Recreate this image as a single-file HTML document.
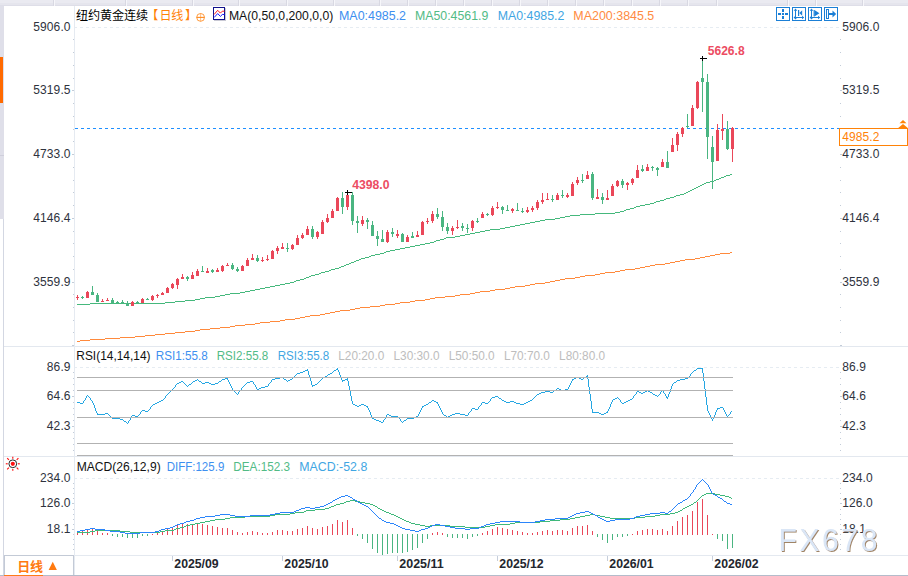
<!DOCTYPE html>
<html><head><meta charset="utf-8"><title>chart</title>
<style>
html,body{margin:0;padding:0;background:#fff;}
body{width:908px;height:576px;overflow:hidden;font-family:"Liberation Sans",sans-serif;}
svg{display:block;font-family:"Liberation Sans",sans-serif;}
</style></head><body>
<svg width="908" height="576" viewBox="0 0 908 576">
<defs><filter id="ws" x="-5%" y="-20%" width="110%" height="140%"><feDropShadow dx="1" dy="1" stdDeviation="0.5" flood-color="#8f6e4c" flood-opacity="0.85"/></filter></defs>
<rect x="0" y="0" width="908" height="576" fill="#fff"/>
<g shape-rendering="crispEdges">
<rect x="0" y="0" width="908" height="3" fill="#eaeaf1"/>
<rect x="0" y="3" width="908" height="2" fill="#e5e5ed"/>
<rect x="0" y="5" width="908" height="1" fill="#dedee8"/>
<rect x="54" y="0" width="1" height="6" fill="#f6f6fa"/>
<rect x="53" y="0" width="1" height="6" fill="#d8d8e2"/>
<rect x="126" y="0" width="1" height="6" fill="#f6f6fa"/>
<rect x="125" y="0" width="1" height="6" fill="#d8d8e2"/>
<rect x="193" y="0" width="1" height="6" fill="#f6f6fa"/>
<rect x="192" y="0" width="1" height="6" fill="#d8d8e2"/>
<rect x="239" y="0" width="1" height="6" fill="#f6f6fa"/>
<rect x="238" y="0" width="1" height="6" fill="#d8d8e2"/>
<rect x="287" y="0" width="1" height="6" fill="#f6f6fa"/>
<rect x="286" y="0" width="1" height="6" fill="#d8d8e2"/>
<rect x="334" y="0" width="1" height="6" fill="#f6f6fa"/>
<rect x="333" y="0" width="1" height="6" fill="#d8d8e2"/>
<rect x="380" y="0" width="1" height="6" fill="#f6f6fa"/>
<rect x="379" y="0" width="1" height="6" fill="#d8d8e2"/>
<rect x="408" y="0" width="1" height="6" fill="#f6f6fa"/>
<rect x="407" y="0" width="1" height="6" fill="#d8d8e2"/>
<rect x="436" y="0" width="1" height="6" fill="#f6f6fa"/>
<rect x="435" y="0" width="1" height="6" fill="#d8d8e2"/>
<rect x="464" y="0" width="1" height="6" fill="#f6f6fa"/>
<rect x="463" y="0" width="1" height="6" fill="#d8d8e2"/>
<rect x="492" y="0" width="1" height="6" fill="#f6f6fa"/>
<rect x="491" y="0" width="1" height="6" fill="#d8d8e2"/>
<rect x="520" y="0" width="1" height="6" fill="#f6f6fa"/>
<rect x="519" y="0" width="1" height="6" fill="#d8d8e2"/>
<rect x="548" y="0" width="1" height="6" fill="#f6f6fa"/>
<rect x="547" y="0" width="1" height="6" fill="#d8d8e2"/>
<rect x="576" y="0" width="1" height="6" fill="#f6f6fa"/>
<rect x="575" y="0" width="1" height="6" fill="#d8d8e2"/>
<rect x="604" y="0" width="1" height="6" fill="#f6f6fa"/>
<rect x="603" y="0" width="1" height="6" fill="#d8d8e2"/>
<rect x="632" y="0" width="1" height="6" fill="#f6f6fa"/>
<rect x="631" y="0" width="1" height="6" fill="#d8d8e2"/>
<rect x="660" y="0" width="1" height="6" fill="#f6f6fa"/>
<rect x="659" y="0" width="1" height="6" fill="#d8d8e2"/>
<rect x="688" y="0" width="1" height="6" fill="#f6f6fa"/>
<rect x="687" y="0" width="1" height="6" fill="#d8d8e2"/>
<rect x="717" y="0" width="1" height="6" fill="#f6f6fa"/>
<rect x="716" y="0" width="1" height="6" fill="#d8d8e2"/>
<rect x="788" y="0" width="1" height="6" fill="#f6f6fa"/>
<rect x="787" y="0" width="1" height="6" fill="#d8d8e2"/>
<rect x="816" y="0" width="1" height="6" fill="#f6f6fa"/>
<rect x="815" y="0" width="1" height="6" fill="#d8d8e2"/>
<rect x="863" y="0" width="1" height="6" fill="#f6f6fa"/>
<rect x="862" y="0" width="1" height="6" fill="#d8d8e2"/>
<rect x="0" y="6" width="4" height="213" fill="#dfdfe9"/>
<rect x="0" y="155" width="4" height="1" fill="#cfcfdb"/>
<rect x="3" y="219" width="1" height="356" fill="#d3d7e2"/>
<rect x="0" y="57" width="3" height="46" fill="#ff6a00"/>
<rect x="4" y="346" width="904" height="1" fill="#e3e8ef"/>
<rect x="4" y="456" width="904" height="1" fill="#e3e8ef"/>
<rect x="4" y="555" width="904" height="1" fill="#e4e9f0"/>
<rect x="74" y="6" width="1" height="569" fill="#e5eaf1"/>
<rect x="0" y="575" width="908" height="1" fill="#b4bccb"/>
<rect x="4" y="575" width="39" height="1" fill="#ff7a1a"/>
<rect x="4" y="555" width="70" height="1" fill="#c3cad6"/>
<rect x="4" y="555" width="1" height="20" fill="#c3cad6"/>
<rect x="73" y="555" width="1" height="20" fill="#c3cad6"/>
</g>
<g shape-rendering="crispEdges">
<rect x="73" y="39" width="1" height="1" fill="#c3ccd8"/>
<rect x="840" y="39" width="1" height="1" fill="#c3ccd8"/>
<rect x="73" y="52" width="1" height="1" fill="#c3ccd8"/>
<rect x="840" y="52" width="1" height="1" fill="#c3ccd8"/>
<rect x="73" y="65" width="1" height="1" fill="#c3ccd8"/>
<rect x="840" y="65" width="1" height="1" fill="#c3ccd8"/>
<rect x="73" y="78" width="1" height="1" fill="#c3ccd8"/>
<rect x="840" y="78" width="1" height="1" fill="#c3ccd8"/>
<rect x="72" y="90" width="2" height="1" fill="#c3ccd8"/>
<rect x="840" y="90" width="2" height="1" fill="#c3ccd8"/>
<rect x="73" y="103" width="1" height="1" fill="#c3ccd8"/>
<rect x="840" y="103" width="1" height="1" fill="#c3ccd8"/>
<rect x="73" y="116" width="1" height="1" fill="#c3ccd8"/>
<rect x="840" y="116" width="1" height="1" fill="#c3ccd8"/>
<rect x="73" y="129" width="1" height="1" fill="#c3ccd8"/>
<rect x="840" y="129" width="1" height="1" fill="#c3ccd8"/>
<rect x="73" y="141" width="1" height="1" fill="#c3ccd8"/>
<rect x="840" y="141" width="1" height="1" fill="#c3ccd8"/>
<rect x="72" y="154" width="2" height="1" fill="#c3ccd8"/>
<rect x="840" y="154" width="2" height="1" fill="#c3ccd8"/>
<rect x="73" y="167" width="1" height="1" fill="#c3ccd8"/>
<rect x="840" y="167" width="1" height="1" fill="#c3ccd8"/>
<rect x="73" y="180" width="1" height="1" fill="#c3ccd8"/>
<rect x="840" y="180" width="1" height="1" fill="#c3ccd8"/>
<rect x="73" y="192" width="1" height="1" fill="#c3ccd8"/>
<rect x="840" y="192" width="1" height="1" fill="#c3ccd8"/>
<rect x="73" y="205" width="1" height="1" fill="#c3ccd8"/>
<rect x="840" y="205" width="1" height="1" fill="#c3ccd8"/>
<rect x="72" y="218" width="2" height="1" fill="#c3ccd8"/>
<rect x="840" y="218" width="2" height="1" fill="#c3ccd8"/>
<rect x="73" y="231" width="1" height="1" fill="#c3ccd8"/>
<rect x="840" y="231" width="1" height="1" fill="#c3ccd8"/>
<rect x="73" y="243" width="1" height="1" fill="#c3ccd8"/>
<rect x="840" y="243" width="1" height="1" fill="#c3ccd8"/>
<rect x="73" y="256" width="1" height="1" fill="#c3ccd8"/>
<rect x="840" y="256" width="1" height="1" fill="#c3ccd8"/>
<rect x="73" y="269" width="1" height="1" fill="#c3ccd8"/>
<rect x="840" y="269" width="1" height="1" fill="#c3ccd8"/>
<rect x="72" y="282" width="2" height="1" fill="#c3ccd8"/>
<rect x="840" y="282" width="2" height="1" fill="#c3ccd8"/>
<rect x="73" y="294" width="1" height="1" fill="#c3ccd8"/>
<rect x="840" y="294" width="1" height="1" fill="#c3ccd8"/>
<rect x="73" y="307" width="1" height="1" fill="#c3ccd8"/>
<rect x="840" y="307" width="1" height="1" fill="#c3ccd8"/>
<rect x="73" y="320" width="1" height="1" fill="#c3ccd8"/>
<rect x="840" y="320" width="1" height="1" fill="#c3ccd8"/>
<rect x="73" y="332" width="1" height="1" fill="#c3ccd8"/>
<rect x="840" y="332" width="1" height="1" fill="#c3ccd8"/>
<rect x="72" y="345" width="2" height="1" fill="#c3ccd8"/>
<rect x="840" y="345" width="2" height="1" fill="#c3ccd8"/>
<rect x="73" y="372" width="1" height="1" fill="#c3ccd8"/>
<rect x="840" y="372" width="1" height="1" fill="#c3ccd8"/>
<rect x="73" y="378" width="1" height="1" fill="#c3ccd8"/>
<rect x="840" y="378" width="1" height="1" fill="#c3ccd8"/>
<rect x="73" y="384" width="1" height="1" fill="#c3ccd8"/>
<rect x="840" y="384" width="1" height="1" fill="#c3ccd8"/>
<rect x="73" y="390" width="1" height="1" fill="#c3ccd8"/>
<rect x="840" y="390" width="1" height="1" fill="#c3ccd8"/>
<rect x="72" y="396" width="2" height="1" fill="#c3ccd8"/>
<rect x="840" y="396" width="2" height="1" fill="#c3ccd8"/>
<rect x="73" y="402" width="1" height="1" fill="#c3ccd8"/>
<rect x="840" y="402" width="1" height="1" fill="#c3ccd8"/>
<rect x="73" y="408" width="1" height="1" fill="#c3ccd8"/>
<rect x="840" y="408" width="1" height="1" fill="#c3ccd8"/>
<rect x="73" y="414" width="1" height="1" fill="#c3ccd8"/>
<rect x="840" y="414" width="1" height="1" fill="#c3ccd8"/>
<rect x="73" y="420" width="1" height="1" fill="#c3ccd8"/>
<rect x="840" y="420" width="1" height="1" fill="#c3ccd8"/>
<rect x="72" y="426" width="2" height="1" fill="#c3ccd8"/>
<rect x="840" y="426" width="2" height="1" fill="#c3ccd8"/>
<rect x="73" y="432" width="1" height="1" fill="#c3ccd8"/>
<rect x="840" y="432" width="1" height="1" fill="#c3ccd8"/>
<rect x="73" y="438" width="1" height="1" fill="#c3ccd8"/>
<rect x="840" y="438" width="1" height="1" fill="#c3ccd8"/>
<rect x="73" y="444" width="1" height="1" fill="#c3ccd8"/>
<rect x="840" y="444" width="1" height="1" fill="#c3ccd8"/>
<rect x="73" y="450" width="1" height="1" fill="#c3ccd8"/>
<rect x="840" y="450" width="1" height="1" fill="#c3ccd8"/>
<rect x="73" y="483" width="1" height="1" fill="#c3ccd8"/>
<rect x="840" y="483" width="1" height="1" fill="#c3ccd8"/>
<rect x="73" y="488" width="1" height="1" fill="#c3ccd8"/>
<rect x="840" y="488" width="1" height="1" fill="#c3ccd8"/>
<rect x="73" y="493" width="1" height="1" fill="#c3ccd8"/>
<rect x="840" y="493" width="1" height="1" fill="#c3ccd8"/>
<rect x="73" y="498" width="1" height="1" fill="#c3ccd8"/>
<rect x="840" y="498" width="1" height="1" fill="#c3ccd8"/>
<rect x="72" y="503" width="2" height="1" fill="#c3ccd8"/>
<rect x="840" y="503" width="2" height="1" fill="#c3ccd8"/>
<rect x="73" y="509" width="1" height="1" fill="#c3ccd8"/>
<rect x="840" y="509" width="1" height="1" fill="#c3ccd8"/>
<rect x="73" y="514" width="1" height="1" fill="#c3ccd8"/>
<rect x="840" y="514" width="1" height="1" fill="#c3ccd8"/>
<rect x="73" y="519" width="1" height="1" fill="#c3ccd8"/>
<rect x="840" y="519" width="1" height="1" fill="#c3ccd8"/>
<rect x="73" y="524" width="1" height="1" fill="#c3ccd8"/>
<rect x="840" y="524" width="1" height="1" fill="#c3ccd8"/>
<rect x="72" y="529" width="2" height="1" fill="#c3ccd8"/>
<rect x="840" y="529" width="2" height="1" fill="#c3ccd8"/>
<rect x="73" y="534" width="1" height="1" fill="#c3ccd8"/>
<rect x="840" y="534" width="1" height="1" fill="#c3ccd8"/>
<rect x="73" y="539" width="1" height="1" fill="#c3ccd8"/>
<rect x="840" y="539" width="1" height="1" fill="#c3ccd8"/>
<rect x="73" y="544" width="1" height="1" fill="#c3ccd8"/>
<rect x="840" y="544" width="1" height="1" fill="#c3ccd8"/>
<rect x="73" y="549" width="1" height="1" fill="#c3ccd8"/>
<rect x="840" y="549" width="1" height="1" fill="#c3ccd8"/>
</g>
<line x1="74" y1="27.5" x2="839" y2="27.5" stroke="#e6ecf2" stroke-width="1" stroke-dasharray="3 3" shape-rendering="crispEdges"/>
<line x1="74" y1="367.5" x2="839" y2="367.5" stroke="#e6ecf2" stroke-width="1" stroke-dasharray="3 3" shape-rendering="crispEdges"/>
<line x1="74" y1="478.5" x2="839" y2="478.5" stroke="#e6ecf2" stroke-width="1" stroke-dasharray="3 3" shape-rendering="crispEdges"/>
<rect x="74" y="6" width="1" height="550" fill="#e5eaf1" shape-rendering="crispEdges"/>
<path d="M730 252h2v1h-2zM720 253h10v1h-10zM715 254h5v1h-5zM710 255h5v1h-5zM705 256h5v1h-5zM700 257h5v1h-5zM695 258h5v1h-5zM685 259h10v1h-10zM680 260h5v1h-5zM675 261h5v1h-5zM670 262h5v1h-5zM665 263h5v1h-5zM655 264h10v1h-10zM650 265h5v1h-5zM645 266h5v1h-5zM640 267h5v1h-5zM635 268h5v1h-5zM625 269h10v1h-10zM620 270h5v1h-5zM615 271h5v1h-5zM605 272h10v1h-10zM600 273h5v1h-5zM595 274h5v1h-5zM585 275h10v1h-10zM580 276h5v1h-5zM575 277h5v1h-5zM565 278h10v1h-10zM560 279h5v1h-5zM555 280h5v1h-5zM550 281h5v1h-5zM545 282h5v1h-5zM535 283h10v1h-10zM530 284h5v1h-5zM525 285h5v1h-5zM515 286h10v1h-10zM510 287h5v1h-5zM505 288h5v1h-5zM495 289h10v1h-10zM490 290h5v1h-5zM480 291h10v1h-10zM475 292h5v1h-5zM470 293h5v1h-5zM460 294h10v1h-10zM455 295h5v1h-5zM445 296h10v1h-10zM435 297h10v1h-10zM430 298h5v1h-5zM425 299h5v1h-5zM415 300h10v1h-10zM410 301h5v1h-5zM400 302h10v1h-10zM395 303h5v1h-5zM385 304h10v1h-10zM380 305h5v1h-5zM370 306h10v1h-10zM360 307h10v1h-10zM355 308h5v1h-5zM350 309h5v1h-5zM340 310h10v1h-10zM335 311h5v1h-5zM330 312h5v1h-5zM325 313h5v1h-5zM320 314h5v1h-5zM310 315h10v1h-10zM305 316h5v1h-5zM300 317h5v1h-5zM295 318h5v1h-5zM285 319h10v1h-10zM280 320h5v1h-5zM270 321h10v1h-10zM260 322h10v1h-10zM255 323h5v1h-5zM245 324h10v1h-10zM235 325h10v1h-10zM230 326h5v1h-5zM220 327h10v1h-10zM210 328h10v1h-10zM200 329h10v1h-10zM195 330h5v1h-5zM185 331h10v1h-10zM175 332h10v1h-10zM165 333h10v1h-10zM155 334h10v1h-10zM145 335h10v1h-10zM135 336h10v1h-10zM120 337h15v1h-15zM105 338h15v1h-15zM90 339h15v1h-15zM80 340h10v1h-10zM77 341h3v1h-3z" fill="#ff8a3d" shape-rendering="crispEdges"/>
<path d="M730 174h2v1h-2zM726 175h4v1h-4zM724 176h2v1h-2zM721 177h3v1h-3zM719 178h2v1h-2zM716 179h3v1h-3zM714 180h2v1h-2zM710 181h4v1h-4zM706 182h4v1h-4zM704 183h2v1h-2zM702 184h2v1h-2zM700 185h2v1h-2zM698 186h2v1h-2zM696 187h2v1h-2zM694 188h2v1h-2zM692 189h2v1h-2zM690 190h2v1h-2zM688 191h2v1h-2zM686 192h2v1h-2zM684 193h2v1h-2zM680 194h4v1h-4zM676 195h4v1h-4zM674 196h2v1h-2zM670 197h4v1h-4zM666 198h4v1h-4zM664 199h2v1h-2zM660 200h4v1h-4zM656 201h4v1h-4zM654 202h2v1h-2zM650 203h4v1h-4zM645 204h5v1h-5zM640 205h5v1h-5zM636 206h4v1h-4zM634 207h2v1h-2zM630 208h4v1h-4zM626 209h4v1h-4zM624 210h2v1h-2zM620 211h4v1h-4zM615 212h5v1h-5zM595 213h20v1h-20zM580 214h15v1h-15zM570 215h10v1h-10zM565 216h5v1h-5zM560 217h5v1h-5zM555 218h5v1h-5zM545 219h10v1h-10zM540 220h5v1h-5zM535 221h5v1h-5zM530 222h5v1h-5zM525 223h5v1h-5zM520 224h5v1h-5zM515 225h5v1h-5zM510 226h5v1h-5zM505 227h5v1h-5zM500 228h5v1h-5zM490 229h10v1h-10zM485 230h5v1h-5zM480 231h5v1h-5zM475 232h5v1h-5zM470 233h5v1h-5zM465 234h5v1h-5zM460 235h5v1h-5zM455 236h5v1h-5zM446 237h9v1h-9zM444 238h2v1h-2zM440 239h4v1h-4zM436 240h4v1h-4zM434 241h2v1h-2zM430 242h4v1h-4zM425 243h5v1h-5zM420 244h5v1h-5zM415 245h5v1h-5zM410 246h5v1h-5zM405 247h5v1h-5zM400 248h5v1h-5zM395 249h5v1h-5zM390 250h5v1h-5zM386 251h4v1h-4zM384 252h2v1h-2zM380 253h4v1h-4zM375 254h5v1h-5zM371 255h4v1h-4zM369 256h2v1h-2zM365 257h4v1h-4zM361 258h4v1h-4zM359 259h2v1h-2zM356 260h3v1h-3zM354 261h2v1h-2zM351 262h3v1h-3zM349 263h2v1h-2zM346 264h3v1h-3zM344 265h2v1h-2zM341 266h3v1h-3zM339 267h2v1h-2zM335 268h4v1h-4zM331 269h4v1h-4zM329 270h2v1h-2zM325 271h4v1h-4zM321 272h4v1h-4zM319 273h2v1h-2zM315 274h4v1h-4zM311 275h4v1h-4zM309 276h2v1h-2zM306 277h3v1h-3zM304 278h2v1h-2zM300 279h4v1h-4zM296 280h4v1h-4zM294 281h2v1h-2zM290 282h4v1h-4zM285 283h5v1h-5zM280 284h5v1h-5zM275 285h5v1h-5zM270 286h5v1h-5zM265 287h5v1h-5zM260 288h5v1h-5zM255 289h5v1h-5zM250 290h5v1h-5zM245 291h5v1h-5zM240 292h5v1h-5zM230 293h10v1h-10zM225 294h5v1h-5zM220 295h5v1h-5zM215 296h5v1h-5zM205 297h10v1h-10zM200 298h5v1h-5zM195 299h5v1h-5zM185 300h10v1h-10zM175 301h10v1h-10zM165 302h10v1h-10zM90 303h75v1h-75zM77 304h13v1h-13z" fill="#45b87c" shape-rendering="crispEdges"/>
<line x1="75" y1="128.5" x2="839" y2="128.5" stroke="#1e8fff" stroke-width="1" stroke-dasharray="3 3" shape-rendering="crispEdges"/>
<g shape-rendering="crispEdges">
<rect x="77" y="295" width="1" height="5" fill="#ea4759"/>
<rect x="76" y="297" width="3" height="1" fill="#ea4759"/>
<rect x="82" y="296" width="1" height="3" fill="#4ab581"/>
<rect x="81" y="297" width="3" height="1" fill="#4ab581"/>
<rect x="87" y="291" width="1" height="7" fill="#ea4759"/>
<rect x="86" y="292" width="3" height="6" fill="#ea4759"/>
<rect x="92" y="286" width="1" height="9" fill="#4ab581"/>
<rect x="91" y="292" width="3" height="3" fill="#4ab581"/>
<rect x="97" y="293" width="1" height="9" fill="#4ab581"/>
<rect x="96" y="295" width="3" height="7" fill="#4ab581"/>
<rect x="102" y="299" width="1" height="3" fill="#ea4759"/>
<rect x="101" y="301" width="3" height="1" fill="#ea4759"/>
<rect x="107" y="298" width="1" height="3" fill="#ea4759"/>
<rect x="106" y="300" width="3" height="1" fill="#ea4759"/>
<rect x="112" y="298" width="1" height="5" fill="#4ab581"/>
<rect x="111" y="300" width="3" height="3" fill="#4ab581"/>
<rect x="117" y="301" width="1" height="2" fill="#4ab581"/>
<rect x="116" y="302" width="3" height="1" fill="#4ab581"/>
<rect x="122" y="300" width="1" height="3" fill="#4ab581"/>
<rect x="121" y="302" width="3" height="1" fill="#4ab581"/>
<rect x="127" y="301" width="1" height="5" fill="#4ab581"/>
<rect x="126" y="303" width="3" height="3" fill="#4ab581"/>
<rect x="132" y="301" width="1" height="5" fill="#ea4759"/>
<rect x="131" y="302" width="3" height="4" fill="#ea4759"/>
<rect x="137" y="301" width="1" height="2" fill="#4ab581"/>
<rect x="136" y="302" width="3" height="1" fill="#4ab581"/>
<rect x="142" y="298" width="1" height="5" fill="#ea4759"/>
<rect x="141" y="299" width="3" height="4" fill="#ea4759"/>
<rect x="147" y="298" width="1" height="2" fill="#4ab581"/>
<rect x="146" y="299" width="3" height="1" fill="#4ab581"/>
<rect x="152" y="295" width="1" height="6" fill="#ea4759"/>
<rect x="151" y="296" width="3" height="4" fill="#ea4759"/>
<rect x="157" y="294" width="1" height="4" fill="#ea4759"/>
<rect x="156" y="295" width="3" height="1" fill="#ea4759"/>
<rect x="162" y="292" width="1" height="3" fill="#ea4759"/>
<rect x="161" y="293" width="3" height="2" fill="#ea4759"/>
<rect x="167" y="287" width="1" height="6" fill="#ea4759"/>
<rect x="166" y="288" width="3" height="5" fill="#ea4759"/>
<rect x="172" y="283" width="1" height="6" fill="#ea4759"/>
<rect x="171" y="284" width="3" height="4" fill="#ea4759"/>
<rect x="177" y="278" width="1" height="11" fill="#ea4759"/>
<rect x="176" y="279" width="3" height="6" fill="#ea4759"/>
<rect x="182" y="274" width="1" height="5" fill="#ea4759"/>
<rect x="181" y="277" width="3" height="2" fill="#ea4759"/>
<rect x="187" y="276" width="1" height="5" fill="#4ab581"/>
<rect x="186" y="277" width="3" height="2" fill="#4ab581"/>
<rect x="192" y="272" width="1" height="7" fill="#ea4759"/>
<rect x="191" y="275" width="3" height="4" fill="#ea4759"/>
<rect x="197" y="269" width="1" height="7" fill="#ea4759"/>
<rect x="196" y="271" width="3" height="5" fill="#ea4759"/>
<rect x="202" y="266" width="1" height="6" fill="#4ab581"/>
<rect x="201" y="271" width="3" height="1" fill="#4ab581"/>
<rect x="207" y="268" width="1" height="5" fill="#ea4759"/>
<rect x="206" y="271" width="3" height="2" fill="#ea4759"/>
<rect x="212" y="269" width="1" height="4" fill="#4ab581"/>
<rect x="211" y="270" width="3" height="2" fill="#4ab581"/>
<rect x="217" y="268" width="1" height="4" fill="#ea4759"/>
<rect x="216" y="270" width="3" height="2" fill="#ea4759"/>
<rect x="222" y="265" width="1" height="7" fill="#ea4759"/>
<rect x="221" y="266" width="3" height="5" fill="#ea4759"/>
<rect x="227" y="263" width="1" height="3" fill="#ea4759"/>
<rect x="226" y="265" width="3" height="1" fill="#ea4759"/>
<rect x="232" y="263" width="1" height="7" fill="#4ab581"/>
<rect x="231" y="265" width="3" height="4" fill="#4ab581"/>
<rect x="237" y="267" width="1" height="5" fill="#4ab581"/>
<rect x="236" y="269" width="3" height="2" fill="#4ab581"/>
<rect x="242" y="265" width="1" height="6" fill="#ea4759"/>
<rect x="241" y="266" width="3" height="5" fill="#ea4759"/>
<rect x="247" y="258" width="1" height="8" fill="#ea4759"/>
<rect x="246" y="260" width="3" height="6" fill="#ea4759"/>
<rect x="252" y="254" width="1" height="6" fill="#ea4759"/>
<rect x="251" y="258" width="3" height="2" fill="#ea4759"/>
<rect x="257" y="255" width="1" height="7" fill="#4ab581"/>
<rect x="256" y="258" width="3" height="3" fill="#4ab581"/>
<rect x="262" y="257" width="1" height="5" fill="#ea4759"/>
<rect x="261" y="260" width="3" height="1" fill="#ea4759"/>
<rect x="267" y="255" width="1" height="6" fill="#ea4759"/>
<rect x="266" y="259" width="3" height="1" fill="#ea4759"/>
<rect x="272" y="250" width="1" height="9" fill="#ea4759"/>
<rect x="271" y="251" width="3" height="8" fill="#ea4759"/>
<rect x="277" y="246" width="1" height="8" fill="#ea4759"/>
<rect x="276" y="248" width="3" height="3" fill="#ea4759"/>
<rect x="282" y="243" width="1" height="6" fill="#ea4759"/>
<rect x="281" y="247" width="3" height="2" fill="#ea4759"/>
<rect x="287" y="243" width="1" height="9" fill="#4ab581"/>
<rect x="286" y="248" width="3" height="1" fill="#4ab581"/>
<rect x="292" y="244" width="1" height="6" fill="#ea4759"/>
<rect x="291" y="245" width="3" height="4" fill="#ea4759"/>
<rect x="297" y="235" width="1" height="10" fill="#ea4759"/>
<rect x="296" y="238" width="3" height="7" fill="#ea4759"/>
<rect x="302" y="233" width="1" height="6" fill="#ea4759"/>
<rect x="301" y="235" width="3" height="3" fill="#ea4759"/>
<rect x="307" y="226" width="1" height="9" fill="#ea4759"/>
<rect x="306" y="229" width="3" height="6" fill="#ea4759"/>
<rect x="312" y="226" width="1" height="13" fill="#4ab581"/>
<rect x="311" y="229" width="3" height="8" fill="#4ab581"/>
<rect x="317" y="231" width="1" height="8" fill="#ea4759"/>
<rect x="316" y="232" width="3" height="5" fill="#ea4759"/>
<rect x="322" y="220" width="1" height="14" fill="#ea4759"/>
<rect x="321" y="222" width="3" height="12" fill="#ea4759"/>
<rect x="327" y="214" width="1" height="9" fill="#ea4759"/>
<rect x="326" y="218" width="3" height="4" fill="#ea4759"/>
<rect x="332" y="209" width="1" height="9" fill="#ea4759"/>
<rect x="331" y="211" width="3" height="7" fill="#ea4759"/>
<rect x="337" y="197" width="1" height="14" fill="#ea4759"/>
<rect x="336" y="198" width="3" height="13" fill="#ea4759"/>
<rect x="342" y="192" width="1" height="22" fill="#4ab581"/>
<rect x="341" y="198" width="3" height="9" fill="#4ab581"/>
<rect x="347" y="194" width="1" height="16" fill="#ea4759"/>
<rect x="346" y="195" width="3" height="12" fill="#ea4759"/>
<rect x="352" y="192" width="1" height="33" fill="#4ab581"/>
<rect x="351" y="195" width="3" height="26" fill="#4ab581"/>
<rect x="357" y="216" width="1" height="17" fill="#4ab581"/>
<rect x="356" y="221" width="3" height="2" fill="#4ab581"/>
<rect x="362" y="216" width="1" height="10" fill="#ea4759"/>
<rect x="361" y="220" width="3" height="4" fill="#ea4759"/>
<rect x="367" y="218" width="1" height="11" fill="#4ab581"/>
<rect x="366" y="220" width="3" height="2" fill="#4ab581"/>
<rect x="372" y="221" width="1" height="15" fill="#4ab581"/>
<rect x="371" y="225" width="3" height="11" fill="#4ab581"/>
<rect x="377" y="231" width="1" height="15" fill="#4ab581"/>
<rect x="376" y="236" width="3" height="3" fill="#4ab581"/>
<rect x="382" y="230" width="1" height="12" fill="#4ab581"/>
<rect x="381" y="239" width="3" height="3" fill="#4ab581"/>
<rect x="387" y="230" width="1" height="13" fill="#ea4759"/>
<rect x="386" y="232" width="3" height="10" fill="#ea4759"/>
<rect x="392" y="228" width="1" height="9" fill="#4ab581"/>
<rect x="391" y="232" width="3" height="2" fill="#4ab581"/>
<rect x="397" y="230" width="1" height="8" fill="#ea4759"/>
<rect x="396" y="234" width="3" height="2" fill="#ea4759"/>
<rect x="402" y="233" width="1" height="9" fill="#4ab581"/>
<rect x="401" y="234" width="3" height="8" fill="#4ab581"/>
<rect x="407" y="235" width="1" height="7" fill="#ea4759"/>
<rect x="406" y="237" width="3" height="5" fill="#ea4759"/>
<rect x="412" y="232" width="1" height="6" fill="#4ab581"/>
<rect x="411" y="236" width="3" height="2" fill="#4ab581"/>
<rect x="417" y="231" width="1" height="6" fill="#ea4759"/>
<rect x="416" y="235" width="3" height="2" fill="#ea4759"/>
<rect x="422" y="221" width="1" height="14" fill="#ea4759"/>
<rect x="421" y="222" width="3" height="13" fill="#ea4759"/>
<rect x="427" y="218" width="1" height="6" fill="#ea4759"/>
<rect x="426" y="221" width="3" height="1" fill="#ea4759"/>
<rect x="432" y="211" width="1" height="12" fill="#ea4759"/>
<rect x="431" y="214" width="3" height="7" fill="#ea4759"/>
<rect x="437" y="208" width="1" height="11" fill="#4ab581"/>
<rect x="436" y="214" width="3" height="3" fill="#4ab581"/>
<rect x="442" y="211" width="1" height="20" fill="#4ab581"/>
<rect x="441" y="217" width="3" height="10" fill="#4ab581"/>
<rect x="447" y="223" width="1" height="11" fill="#4ab581"/>
<rect x="446" y="227" width="3" height="4" fill="#4ab581"/>
<rect x="452" y="226" width="1" height="9" fill="#ea4759"/>
<rect x="451" y="228" width="3" height="3" fill="#ea4759"/>
<rect x="457" y="220" width="1" height="9" fill="#ea4759"/>
<rect x="456" y="227" width="3" height="1" fill="#ea4759"/>
<rect x="462" y="223" width="1" height="8" fill="#4ab581"/>
<rect x="461" y="226" width="3" height="2" fill="#4ab581"/>
<rect x="467" y="224" width="1" height="9" fill="#4ab581"/>
<rect x="466" y="228" width="3" height="1" fill="#4ab581"/>
<rect x="472" y="220" width="1" height="11" fill="#ea4759"/>
<rect x="471" y="221" width="3" height="7" fill="#ea4759"/>
<rect x="477" y="218" width="1" height="5" fill="#4ab581"/>
<rect x="476" y="221" width="3" height="1" fill="#4ab581"/>
<rect x="482" y="212" width="1" height="6" fill="#ea4759"/>
<rect x="481" y="214" width="3" height="4" fill="#ea4759"/>
<rect x="487" y="213" width="1" height="3" fill="#4ab581"/>
<rect x="486" y="214" width="3" height="1" fill="#4ab581"/>
<rect x="492" y="206" width="1" height="10" fill="#ea4759"/>
<rect x="491" y="208" width="3" height="7" fill="#ea4759"/>
<rect x="497" y="202" width="1" height="7" fill="#ea4759"/>
<rect x="496" y="207" width="3" height="1" fill="#ea4759"/>
<rect x="502" y="206" width="1" height="8" fill="#4ab581"/>
<rect x="501" y="207" width="3" height="3" fill="#4ab581"/>
<rect x="507" y="205" width="1" height="6" fill="#4ab581"/>
<rect x="506" y="210" width="3" height="1" fill="#4ab581"/>
<rect x="512" y="208" width="1" height="5" fill="#ea4759"/>
<rect x="511" y="209" width="3" height="2" fill="#ea4759"/>
<rect x="517" y="203" width="1" height="8" fill="#4ab581"/>
<rect x="516" y="210" width="3" height="1" fill="#4ab581"/>
<rect x="522" y="208" width="1" height="5" fill="#4ab581"/>
<rect x="521" y="211" width="3" height="1" fill="#4ab581"/>
<rect x="527" y="207" width="1" height="6" fill="#ea4759"/>
<rect x="526" y="210" width="3" height="2" fill="#ea4759"/>
<rect x="532" y="206" width="1" height="6" fill="#ea4759"/>
<rect x="531" y="208" width="3" height="2" fill="#ea4759"/>
<rect x="537" y="200" width="1" height="10" fill="#ea4759"/>
<rect x="536" y="202" width="3" height="6" fill="#ea4759"/>
<rect x="542" y="193" width="1" height="11" fill="#ea4759"/>
<rect x="541" y="200" width="3" height="2" fill="#ea4759"/>
<rect x="547" y="193" width="1" height="7" fill="#ea4759"/>
<rect x="546" y="199" width="3" height="1" fill="#ea4759"/>
<rect x="552" y="195" width="1" height="7" fill="#4ab581"/>
<rect x="551" y="199" width="3" height="1" fill="#4ab581"/>
<rect x="557" y="193" width="1" height="7" fill="#ea4759"/>
<rect x="556" y="195" width="3" height="5" fill="#ea4759"/>
<rect x="562" y="190" width="1" height="8" fill="#4ab581"/>
<rect x="561" y="195" width="3" height="1" fill="#4ab581"/>
<rect x="567" y="193" width="1" height="5" fill="#ea4759"/>
<rect x="566" y="195" width="3" height="2" fill="#ea4759"/>
<rect x="572" y="182" width="1" height="14" fill="#ea4759"/>
<rect x="571" y="184" width="3" height="12" fill="#ea4759"/>
<rect x="577" y="177" width="1" height="8" fill="#ea4759"/>
<rect x="576" y="180" width="3" height="3" fill="#ea4759"/>
<rect x="582" y="174" width="1" height="9" fill="#4ab581"/>
<rect x="581" y="180" width="3" height="1" fill="#4ab581"/>
<rect x="587" y="171" width="1" height="8" fill="#ea4759"/>
<rect x="586" y="175" width="3" height="4" fill="#ea4759"/>
<rect x="592" y="172" width="1" height="28" fill="#4ab581"/>
<rect x="591" y="174" width="3" height="24" fill="#4ab581"/>
<rect x="597" y="189" width="1" height="10" fill="#ea4759"/>
<rect x="596" y="197" width="3" height="2" fill="#ea4759"/>
<rect x="602" y="193" width="1" height="11" fill="#4ab581"/>
<rect x="601" y="197" width="3" height="3" fill="#4ab581"/>
<rect x="607" y="190" width="1" height="10" fill="#ea4759"/>
<rect x="606" y="198" width="3" height="2" fill="#ea4759"/>
<rect x="612" y="184" width="1" height="12" fill="#ea4759"/>
<rect x="611" y="186" width="3" height="10" fill="#ea4759"/>
<rect x="617" y="180" width="1" height="7" fill="#ea4759"/>
<rect x="616" y="181" width="3" height="5" fill="#ea4759"/>
<rect x="622" y="179" width="1" height="9" fill="#4ab581"/>
<rect x="621" y="181" width="3" height="4" fill="#4ab581"/>
<rect x="627" y="182" width="1" height="8" fill="#ea4759"/>
<rect x="626" y="183" width="3" height="2" fill="#ea4759"/>
<rect x="632" y="178" width="1" height="7" fill="#ea4759"/>
<rect x="631" y="179" width="3" height="4" fill="#ea4759"/>
<rect x="637" y="165" width="1" height="13" fill="#ea4759"/>
<rect x="636" y="170" width="3" height="8" fill="#ea4759"/>
<rect x="642" y="165" width="1" height="7" fill="#4ab581"/>
<rect x="641" y="169" width="3" height="2" fill="#4ab581"/>
<rect x="647" y="164" width="1" height="7" fill="#ea4759"/>
<rect x="646" y="167" width="3" height="4" fill="#ea4759"/>
<rect x="652" y="166" width="1" height="5" fill="#4ab581"/>
<rect x="651" y="167" width="3" height="1" fill="#4ab581"/>
<rect x="657" y="167" width="1" height="9" fill="#4ab581"/>
<rect x="656" y="168" width="3" height="2" fill="#4ab581"/>
<rect x="662" y="159" width="1" height="8" fill="#ea4759"/>
<rect x="661" y="162" width="3" height="5" fill="#ea4759"/>
<rect x="667" y="151" width="1" height="17" fill="#4ab581"/>
<rect x="666" y="162" width="3" height="6" fill="#4ab581"/>
<rect x="672" y="138" width="1" height="14" fill="#ea4759"/>
<rect x="671" y="145" width="3" height="7" fill="#ea4759"/>
<rect x="677" y="132" width="1" height="19" fill="#ea4759"/>
<rect x="676" y="134" width="3" height="11" fill="#ea4759"/>
<rect x="682" y="127" width="1" height="10" fill="#ea4759"/>
<rect x="681" y="128" width="3" height="6" fill="#ea4759"/>
<rect x="687" y="114" width="1" height="14" fill="#4ab581"/>
<rect x="686" y="126" width="3" height="1" fill="#4ab581"/>
<rect x="692" y="105" width="1" height="21" fill="#ea4759"/>
<rect x="691" y="108" width="3" height="18" fill="#ea4759"/>
<rect x="697" y="81" width="1" height="28" fill="#ea4759"/>
<rect x="696" y="82" width="3" height="26" fill="#ea4759"/>
<rect x="702" y="59" width="1" height="53" fill="#4ab581"/>
<rect x="701" y="78" width="3" height="4" fill="#4ab581"/>
<rect x="707" y="74" width="1" height="85" fill="#4ab581"/>
<rect x="706" y="82" width="3" height="55" fill="#4ab581"/>
<rect x="712" y="136" width="1" height="53" fill="#4ab581"/>
<rect x="711" y="147" width="3" height="15" fill="#4ab581"/>
<rect x="717" y="124" width="1" height="37" fill="#ea4759"/>
<rect x="716" y="130" width="3" height="31" fill="#ea4759"/>
<rect x="722" y="114" width="1" height="26" fill="#ea4759"/>
<rect x="721" y="129" width="3" height="2" fill="#ea4759"/>
<rect x="727" y="121" width="1" height="29" fill="#4ab581"/>
<rect x="726" y="129" width="3" height="20" fill="#4ab581"/>
<rect x="732" y="127" width="1" height="35" fill="#ea4759"/>
<rect x="731" y="128" width="3" height="21" fill="#ea4759"/>
</g>
<g shape-rendering="crispEdges" fill="#000">
<rect x="345" y="192" width="7" height="1" fill="#000"/>
<rect x="347" y="190" width="1" height="5" fill="#000"/>
<rect x="700" y="58" width="7" height="1" fill="#000"/>
<rect x="702" y="56" width="1" height="5" fill="#000"/>
</g>
<path d="M337 368h1v1h-1zM697 368h6v1h-6zM307 369h1v1h-1zM336 369h2v1h-2zM696 369h1v1h-1zM702 369h1v1h-1zM305 370h3v1h-3zM334 370h2v1h-2zM338 370h1v1h-1zM694 370h2v1h-2zM702 370h1v1h-1zM303 371h2v1h-2zM308 371h1v1h-1zM333 371h1v1h-1zM338 371h1v1h-1zM693 371h1v1h-1zM702 371h1v1h-1zM300 372h3v1h-3zM308 372h1v1h-1zM332 372h1v1h-1zM339 372h1v1h-1zM692 372h1v1h-1zM702 372h1v1h-1zM297 373h3v1h-3zM308 373h1v1h-1zM330 373h2v1h-2zM339 373h1v1h-1zM691 373h1v1h-1zM703 373h1v1h-1zM296 374h1v1h-1zM308 374h1v1h-1zM328 374h2v1h-2zM339 374h1v1h-1zM690 374h1v1h-1zM703 374h1v1h-1zM295 375h1v1h-1zM309 375h1v1h-1zM327 375h1v1h-1zM340 375h1v1h-1zM587 375h1v1h-1zM690 375h1v1h-1zM703 375h1v1h-1zM294 376h1v1h-1zM309 376h1v1h-1zM325 376h2v1h-2zM340 376h1v1h-1zM586 376h2v1h-2zM689 376h1v1h-1zM703 376h1v1h-1zM280 377h3v1h-3zM293 377h1v1h-1zM309 377h1v1h-1zM323 377h2v1h-2zM340 377h1v1h-1zM576 377h3v1h-3zM584 377h2v1h-2zM587 377h1v1h-1zM688 377h1v1h-1zM703 377h1v1h-1zM225 378h3v1h-3zM275 378h5v1h-5zM283 378h1v1h-1zM292 378h1v1h-1zM310 378h1v1h-1zM322 378h1v1h-1zM341 378h1v1h-1zM347 378h1v1h-1zM574 378h2v1h-2zM579 378h2v1h-2zM583 378h1v1h-1zM587 378h1v1h-1zM685 378h3v1h-3zM703 378h1v1h-1zM197 379h1v1h-1zM222 379h3v1h-3zM227 379h1v1h-1zM272 379h3v1h-3zM284 379h2v1h-2zM290 379h2v1h-2zM310 379h1v1h-1zM321 379h1v1h-1zM341 379h1v1h-1zM345 379h3v1h-3zM572 379h2v1h-2zM581 379h2v1h-2zM588 379h1v1h-1zM680 379h5v1h-5zM703 379h1v1h-1zM195 380h2v1h-2zM198 380h1v1h-1zM221 380h1v1h-1zM228 380h1v1h-1zM271 380h1v1h-1zM286 380h1v1h-1zM288 380h2v1h-2zM310 380h1v1h-1zM320 380h1v1h-1zM342 380h3v1h-3zM347 380h1v1h-1zM572 380h1v1h-1zM588 380h1v1h-1zM677 380h3v1h-3zM703 380h1v1h-1zM181 381h2v1h-2zM193 381h2v1h-2zM199 381h2v1h-2zM219 381h2v1h-2zM228 381h1v1h-1zM250 381h3v1h-3zM271 381h1v1h-1zM287 381h1v1h-1zM311 381h1v1h-1zM319 381h1v1h-1zM342 381h1v1h-1zM348 381h1v1h-1zM571 381h1v1h-1zM588 381h1v1h-1zM676 381h1v1h-1zM704 381h1v1h-1zM179 382h2v1h-2zM183 382h1v1h-1zM192 382h1v1h-1zM201 382h1v1h-1zM205 382h4v1h-4zM218 382h1v1h-1zM229 382h1v1h-1zM247 382h3v1h-3zM253 382h1v1h-1zM270 382h1v1h-1zM311 382h1v1h-1zM318 382h1v1h-1zM348 382h1v1h-1zM571 382h1v1h-1zM588 382h1v1h-1zM674 382h2v1h-2zM704 382h1v1h-1zM177 383h2v1h-2zM184 383h1v1h-1zM191 383h1v1h-1zM202 383h3v1h-3zM209 383h2v1h-2zM215 383h3v1h-3zM229 383h1v1h-1zM246 383h1v1h-1zM253 383h1v1h-1zM269 383h1v1h-1zM311 383h1v1h-1zM317 383h1v1h-1zM348 383h1v1h-1zM570 383h1v1h-1zM588 383h1v1h-1zM673 383h1v1h-1zM704 383h1v1h-1zM176 384h1v1h-1zM185 384h1v1h-1zM189 384h2v1h-2zM211 384h4v1h-4zM230 384h1v1h-1zM245 384h1v1h-1zM254 384h1v1h-1zM268 384h1v1h-1zM311 384h1v1h-1zM315 384h2v1h-2zM348 384h1v1h-1zM570 384h1v1h-1zM588 384h1v1h-1zM672 384h1v1h-1zM704 384h1v1h-1zM175 385h1v1h-1zM186 385h1v1h-1zM188 385h1v1h-1zM230 385h1v1h-1zM244 385h1v1h-1zM255 385h1v1h-1zM268 385h1v1h-1zM312 385h3v1h-3zM348 385h1v1h-1zM569 385h1v1h-1zM588 385h1v1h-1zM672 385h1v1h-1zM704 385h1v1h-1zM175 386h1v1h-1zM187 386h1v1h-1zM231 386h1v1h-1zM243 386h1v1h-1zM255 386h1v1h-1zM265 386h3v1h-3zM312 386h1v1h-1zM349 386h1v1h-1zM569 386h1v1h-1zM588 386h1v1h-1zM671 386h1v1h-1zM704 386h1v1h-1zM174 387h1v1h-1zM231 387h1v1h-1zM242 387h1v1h-1zM256 387h1v1h-1zM261 387h4v1h-4zM349 387h1v1h-1zM568 387h1v1h-1zM589 387h1v1h-1zM671 387h1v1h-1zM704 387h1v1h-1zM173 388h1v1h-1zM232 388h1v1h-1zM241 388h1v1h-1zM256 388h1v1h-1zM259 388h2v1h-2zM349 388h1v1h-1zM557 388h2v1h-2zM568 388h1v1h-1zM589 388h1v1h-1zM671 388h1v1h-1zM704 388h1v1h-1zM172 389h1v1h-1zM232 389h1v1h-1zM241 389h1v1h-1zM257 389h2v1h-2zM349 389h1v1h-1zM556 389h1v1h-1zM559 389h2v1h-2zM565 389h3v1h-3zM589 389h1v1h-1zM670 389h1v1h-1zM705 389h1v1h-1zM171 390h1v1h-1zM233 390h1v1h-1zM240 390h1v1h-1zM349 390h1v1h-1zM554 390h2v1h-2zM561 390h4v1h-4zM589 390h1v1h-1zM647 390h1v1h-1zM662 390h1v1h-1zM670 390h1v1h-1zM705 390h1v1h-1zM170 391h1v1h-1zM234 391h1v1h-1zM239 391h1v1h-1zM350 391h1v1h-1zM545 391h5v1h-5zM553 391h1v1h-1zM589 391h1v1h-1zM637 391h2v1h-2zM645 391h2v1h-2zM648 391h2v1h-2zM661 391h1v1h-1zM663 391h1v1h-1zM670 391h1v1h-1zM705 391h1v1h-1zM169 392h1v1h-1zM235 392h1v1h-1zM238 392h1v1h-1zM350 392h1v1h-1zM541 392h4v1h-4zM550 392h3v1h-3zM589 392h1v1h-1zM636 392h1v1h-1zM639 392h2v1h-2zM643 392h2v1h-2zM650 392h2v1h-2zM660 392h1v1h-1zM663 392h1v1h-1zM669 392h1v1h-1zM705 392h1v1h-1zM168 393h1v1h-1zM236 393h1v1h-1zM238 393h1v1h-1zM350 393h1v1h-1zM539 393h2v1h-2zM589 393h1v1h-1zM636 393h1v1h-1zM641 393h2v1h-2zM652 393h1v1h-1zM660 393h1v1h-1zM664 393h1v1h-1zM669 393h1v1h-1zM705 393h1v1h-1zM167 394h1v1h-1zM237 394h1v1h-1zM350 394h1v1h-1zM537 394h2v1h-2zM590 394h1v1h-1zM635 394h1v1h-1zM653 394h2v1h-2zM659 394h1v1h-1zM665 394h1v1h-1zM668 394h1v1h-1zM705 394h1v1h-1zM87 395h1v1h-1zM166 395h1v1h-1zM350 395h1v1h-1zM536 395h1v1h-1zM590 395h1v1h-1zM634 395h1v1h-1zM655 395h2v1h-2zM658 395h1v1h-1zM665 395h1v1h-1zM668 395h1v1h-1zM705 395h1v1h-1zM86 396h1v1h-1zM88 396h1v1h-1zM165 396h1v1h-1zM351 396h1v1h-1zM495 396h3v1h-3zM535 396h1v1h-1zM590 396h1v1h-1zM633 396h1v1h-1zM657 396h1v1h-1zM666 396h1v1h-1zM668 396h1v1h-1zM705 396h1v1h-1zM86 397h1v1h-1zM89 397h1v1h-1zM165 397h1v1h-1zM351 397h1v1h-1zM492 397h3v1h-3zM498 397h1v1h-1zM534 397h1v1h-1zM590 397h1v1h-1zM617 397h1v1h-1zM633 397h1v1h-1zM666 397h2v1h-2zM706 397h1v1h-1zM85 398h1v1h-1zM90 398h1v1h-1zM164 398h1v1h-1zM351 398h1v1h-1zM491 398h1v1h-1zM499 398h2v1h-2zM533 398h1v1h-1zM590 398h1v1h-1zM615 398h2v1h-2zM618 398h1v1h-1zM632 398h1v1h-1zM667 398h1v1h-1zM706 398h1v1h-1zM85 399h1v1h-1zM90 399h1v1h-1zM163 399h1v1h-1zM351 399h1v1h-1zM490 399h1v1h-1zM501 399h1v1h-1zM532 399h1v1h-1zM590 399h1v1h-1zM613 399h2v1h-2zM619 399h1v1h-1zM630 399h2v1h-2zM706 399h1v1h-1zM84 400h1v1h-1zM91 400h1v1h-1zM161 400h2v1h-2zM351 400h1v1h-1zM432 400h2v1h-2zM490 400h1v1h-1zM502 400h2v1h-2zM530 400h2v1h-2zM590 400h1v1h-1zM612 400h1v1h-1zM620 400h1v1h-1zM628 400h2v1h-2zM706 400h1v1h-1zM83 401h1v1h-1zM92 401h1v1h-1zM159 401h2v1h-2zM352 401h1v1h-1zM431 401h1v1h-1zM434 401h2v1h-2zM489 401h1v1h-1zM504 401h2v1h-2zM510 401h4v1h-4zM528 401h2v1h-2zM591 401h1v1h-1zM612 401h1v1h-1zM620 401h1v1h-1zM626 401h2v1h-2zM706 401h1v1h-1zM77 402h3v1h-3zM83 402h1v1h-1zM92 402h1v1h-1zM157 402h2v1h-2zM352 402h1v1h-1zM429 402h2v1h-2zM436 402h2v1h-2zM482 402h3v1h-3zM488 402h1v1h-1zM506 402h4v1h-4zM514 402h2v1h-2zM526 402h2v1h-2zM591 402h1v1h-1zM611 402h1v1h-1zM621 402h1v1h-1zM624 402h2v1h-2zM706 402h1v1h-1zM80 403h3v1h-3zM93 403h1v1h-1zM155 403h2v1h-2zM352 403h1v1h-1zM428 403h1v1h-1zM437 403h1v1h-1zM481 403h1v1h-1zM485 403h3v1h-3zM516 403h4v1h-4zM524 403h2v1h-2zM591 403h1v1h-1zM611 403h1v1h-1zM622 403h2v1h-2zM706 403h1v1h-1zM93 404h1v1h-1zM153 404h2v1h-2zM353 404h2v1h-2zM361 404h3v1h-3zM426 404h2v1h-2zM438 404h1v1h-1zM481 404h1v1h-1zM520 404h4v1h-4zM591 404h1v1h-1zM610 404h1v1h-1zM706 404h1v1h-1zM94 405h1v1h-1zM152 405h1v1h-1zM355 405h2v1h-2zM359 405h2v1h-2zM364 405h2v1h-2zM424 405h2v1h-2zM438 405h1v1h-1zM480 405h1v1h-1zM591 405h1v1h-1zM610 405h1v1h-1zM707 405h1v1h-1zM94 406h1v1h-1zM151 406h1v1h-1zM357 406h2v1h-2zM366 406h2v1h-2zM422 406h2v1h-2zM439 406h1v1h-1zM479 406h1v1h-1zM591 406h1v1h-1zM610 406h1v1h-1zM707 406h1v1h-1zM94 407h1v1h-1zM150 407h1v1h-1zM367 407h1v1h-1zM422 407h1v1h-1zM439 407h1v1h-1zM478 407h1v1h-1zM591 407h1v1h-1zM609 407h1v1h-1zM707 407h1v1h-1zM720 407h3v1h-3zM95 408h1v1h-1zM150 408h1v1h-1zM368 408h1v1h-1zM421 408h1v1h-1zM440 408h1v1h-1zM472 408h3v1h-3zM478 408h1v1h-1zM591 408h1v1h-1zM609 408h1v1h-1zM707 408h1v1h-1zM717 408h3v1h-3zM723 408h1v1h-1zM95 409h1v1h-1zM149 409h1v1h-1zM368 409h1v1h-1zM421 409h1v1h-1zM440 409h1v1h-1zM471 409h1v1h-1zM475 409h3v1h-3zM592 409h1v1h-1zM608 409h1v1h-1zM707 409h1v1h-1zM717 409h1v1h-1zM723 409h1v1h-1zM95 410h1v1h-1zM142 410h3v1h-3zM148 410h1v1h-1zM369 410h1v1h-1zM420 410h1v1h-1zM441 410h1v1h-1zM471 410h1v1h-1zM592 410h1v1h-1zM608 410h1v1h-1zM707 410h1v1h-1zM716 410h1v1h-1zM724 410h1v1h-1zM96 411h1v1h-1zM141 411h1v1h-1zM145 411h3v1h-3zM369 411h1v1h-1zM420 411h1v1h-1zM441 411h1v1h-1zM470 411h1v1h-1zM592 411h1v1h-1zM607 411h1v1h-1zM708 411h1v1h-1zM716 411h1v1h-1zM724 411h1v1h-1zM731 411h1v1h-1zM96 412h1v1h-1zM140 412h1v1h-1zM370 412h1v1h-1zM419 412h1v1h-1zM442 412h1v1h-1zM469 412h1v1h-1zM592 412h7v1h-7zM606 412h2v1h-2zM708 412h1v1h-1zM715 412h1v1h-1zM725 412h1v1h-1zM730 412h1v1h-1zM97 413h1v1h-1zM105 413h3v1h-3zM140 413h1v1h-1zM370 413h1v1h-1zM419 413h1v1h-1zM442 413h1v1h-1zM455 413h5v1h-5zM468 413h1v1h-1zM599 413h2v1h-2zM604 413h2v1h-2zM709 413h1v1h-1zM715 413h1v1h-1zM725 413h1v1h-1zM730 413h1v1h-1zM97 414h8v1h-8zM108 414h1v1h-1zM139 414h1v1h-1zM370 414h1v1h-1zM387 414h2v1h-2zM418 414h1v1h-1zM443 414h1v1h-1zM452 414h3v1h-3zM460 414h5v1h-5zM468 414h1v1h-1zM601 414h3v1h-3zM709 414h1v1h-1zM715 414h1v1h-1zM726 414h1v1h-1zM729 414h1v1h-1zM109 415h1v1h-1zM132 415h3v1h-3zM138 415h1v1h-1zM371 415h1v1h-1zM386 415h1v1h-1zM389 415h2v1h-2zM418 415h1v1h-1zM444 415h2v1h-2zM450 415h2v1h-2zM465 415h3v1h-3zM710 415h1v1h-1zM714 415h1v1h-1zM726 415h1v1h-1zM728 415h1v1h-1zM110 416h1v1h-1zM131 416h1v1h-1zM135 416h3v1h-3zM371 416h1v1h-1zM386 416h1v1h-1zM391 416h7v1h-7zM416 416h2v1h-2zM446 416h1v1h-1zM448 416h2v1h-2zM710 416h1v1h-1zM714 416h1v1h-1zM727 416h1v1h-1zM111 417h1v1h-1zM131 417h1v1h-1zM372 417h1v1h-1zM385 417h1v1h-1zM398 417h1v1h-1zM414 417h2v1h-2zM447 417h1v1h-1zM711 417h1v1h-1zM713 417h1v1h-1zM112 418h8v1h-8zM130 418h1v1h-1zM372 418h2v1h-2zM385 418h1v1h-1zM399 418h1v1h-1zM407 418h7v1h-7zM711 418h1v1h-1zM713 418h1v1h-1zM120 419h3v1h-3zM130 419h1v1h-1zM374 419h2v1h-2zM384 419h1v1h-1zM400 419h1v1h-1zM406 419h1v1h-1zM712 419h1v1h-1zM123 420h1v1h-1zM129 420h1v1h-1zM376 420h3v1h-3zM383 420h1v1h-1zM400 420h1v1h-1zM404 420h2v1h-2zM712 420h1v1h-1zM124 421h2v1h-2zM128 421h1v1h-1zM379 421h2v1h-2zM383 421h1v1h-1zM401 421h1v1h-1zM403 421h1v1h-1zM126 422h1v1h-1zM128 422h1v1h-1zM381 422h2v1h-2zM402 422h1v1h-1zM127 423h1v1h-1z" fill="#24a6e2" shape-rendering="crispEdges"/>
<rect x="77" y="377" width="656" height="1" fill="#b2b2b2" shape-rendering="crispEdges"/>
<rect x="77" y="390" width="656" height="1" fill="#b2b2b2" shape-rendering="crispEdges"/>
<rect x="77" y="417" width="656" height="1" fill="#b2b2b2" shape-rendering="crispEdges"/>
<rect x="77" y="443" width="656" height="1" fill="#b2b2b2" shape-rendering="crispEdges"/>
<rect x="77" y="455" width="656" height="1" fill="#b2b2b2" shape-rendering="crispEdges"/>
<g shape-rendering="crispEdges">
<rect x="77" y="531" width="1" height="4" fill="#ea4759"/>
<rect x="82" y="530" width="1" height="5" fill="#ea4759"/>
<rect x="87" y="529" width="1" height="6" fill="#ea4759"/>
<rect x="92" y="529" width="1" height="6" fill="#ea4759"/>
<rect x="97" y="530" width="1" height="5" fill="#ea4759"/>
<rect x="102" y="533" width="1" height="2" fill="#ea4759"/>
<rect x="107" y="533" width="1" height="2" fill="#ea4759"/>
<rect x="112" y="534" width="1" height="2" fill="#4ab581"/>
<rect x="117" y="534" width="1" height="3" fill="#4ab581"/>
<rect x="122" y="534" width="1" height="3" fill="#4ab581"/>
<rect x="127" y="534" width="1" height="4" fill="#4ab581"/>
<rect x="132" y="534" width="1" height="4" fill="#4ab581"/>
<rect x="137" y="534" width="1" height="4" fill="#4ab581"/>
<rect x="142" y="534" width="1" height="2" fill="#4ab581"/>
<rect x="147" y="534" width="1" height="2" fill="#4ab581"/>
<rect x="152" y="534" width="1" height="1" fill="#ea4759"/>
<rect x="157" y="532" width="1" height="3" fill="#ea4759"/>
<rect x="162" y="531" width="1" height="4" fill="#ea4759"/>
<rect x="167" y="529" width="1" height="6" fill="#ea4759"/>
<rect x="172" y="528" width="1" height="7" fill="#ea4759"/>
<rect x="177" y="525" width="1" height="10" fill="#ea4759"/>
<rect x="182" y="524" width="1" height="11" fill="#ea4759"/>
<rect x="187" y="524" width="1" height="11" fill="#ea4759"/>
<rect x="192" y="524" width="1" height="11" fill="#ea4759"/>
<rect x="197" y="523" width="1" height="12" fill="#ea4759"/>
<rect x="202" y="524" width="1" height="11" fill="#ea4759"/>
<rect x="207" y="525" width="1" height="10" fill="#ea4759"/>
<rect x="212" y="526" width="1" height="9" fill="#ea4759"/>
<rect x="217" y="527" width="1" height="8" fill="#ea4759"/>
<rect x="222" y="528" width="1" height="7" fill="#ea4759"/>
<rect x="227" y="528" width="1" height="7" fill="#ea4759"/>
<rect x="232" y="530" width="1" height="5" fill="#ea4759"/>
<rect x="237" y="532" width="1" height="3" fill="#ea4759"/>
<rect x="242" y="533" width="1" height="2" fill="#ea4759"/>
<rect x="247" y="532" width="1" height="3" fill="#ea4759"/>
<rect x="252" y="531" width="1" height="4" fill="#ea4759"/>
<rect x="257" y="532" width="1" height="3" fill="#ea4759"/>
<rect x="262" y="533" width="1" height="2" fill="#ea4759"/>
<rect x="267" y="533" width="1" height="2" fill="#ea4759"/>
<rect x="272" y="532" width="1" height="3" fill="#ea4759"/>
<rect x="277" y="530" width="1" height="5" fill="#ea4759"/>
<rect x="282" y="530" width="1" height="5" fill="#ea4759"/>
<rect x="287" y="531" width="1" height="4" fill="#ea4759"/>
<rect x="292" y="531" width="1" height="4" fill="#ea4759"/>
<rect x="297" y="529" width="1" height="6" fill="#ea4759"/>
<rect x="302" y="528" width="1" height="7" fill="#ea4759"/>
<rect x="307" y="526" width="1" height="9" fill="#ea4759"/>
<rect x="312" y="528" width="1" height="7" fill="#ea4759"/>
<rect x="317" y="529" width="1" height="6" fill="#ea4759"/>
<rect x="322" y="527" width="1" height="8" fill="#ea4759"/>
<rect x="327" y="526" width="1" height="9" fill="#ea4759"/>
<rect x="332" y="524" width="1" height="11" fill="#ea4759"/>
<rect x="337" y="520" width="1" height="15" fill="#ea4759"/>
<rect x="342" y="522" width="1" height="13" fill="#ea4759"/>
<rect x="347" y="520" width="1" height="15" fill="#ea4759"/>
<rect x="352" y="528" width="1" height="7" fill="#ea4759"/>
<rect x="357" y="534" width="1" height="2" fill="#4ab581"/>
<rect x="362" y="534" width="1" height="5" fill="#4ab581"/>
<rect x="367" y="534" width="1" height="9" fill="#4ab581"/>
<rect x="372" y="534" width="1" height="15" fill="#4ab581"/>
<rect x="377" y="534" width="1" height="19" fill="#4ab581"/>
<rect x="382" y="534" width="1" height="21" fill="#4ab581"/>
<rect x="387" y="534" width="1" height="20" fill="#4ab581"/>
<rect x="392" y="534" width="1" height="19" fill="#4ab581"/>
<rect x="397" y="534" width="1" height="19" fill="#4ab581"/>
<rect x="402" y="534" width="1" height="19" fill="#4ab581"/>
<rect x="407" y="534" width="1" height="18" fill="#4ab581"/>
<rect x="412" y="534" width="1" height="16" fill="#4ab581"/>
<rect x="417" y="534" width="1" height="14" fill="#4ab581"/>
<rect x="422" y="534" width="1" height="9" fill="#4ab581"/>
<rect x="427" y="534" width="1" height="5" fill="#4ab581"/>
<rect x="432" y="533" width="1" height="2" fill="#ea4759"/>
<rect x="437" y="532" width="1" height="3" fill="#ea4759"/>
<rect x="442" y="533" width="1" height="2" fill="#ea4759"/>
<rect x="447" y="534" width="1" height="3" fill="#4ab581"/>
<rect x="452" y="534" width="1" height="4" fill="#4ab581"/>
<rect x="457" y="534" width="1" height="4" fill="#4ab581"/>
<rect x="462" y="534" width="1" height="4" fill="#4ab581"/>
<rect x="467" y="534" width="1" height="5" fill="#4ab581"/>
<rect x="472" y="534" width="1" height="3" fill="#4ab581"/>
<rect x="477" y="534" width="1" height="2" fill="#4ab581"/>
<rect x="482" y="533" width="1" height="2" fill="#ea4759"/>
<rect x="487" y="531" width="1" height="4" fill="#ea4759"/>
<rect x="492" y="529" width="1" height="6" fill="#ea4759"/>
<rect x="497" y="527" width="1" height="8" fill="#ea4759"/>
<rect x="502" y="528" width="1" height="7" fill="#ea4759"/>
<rect x="507" y="529" width="1" height="6" fill="#ea4759"/>
<rect x="512" y="530" width="1" height="5" fill="#ea4759"/>
<rect x="517" y="531" width="1" height="4" fill="#ea4759"/>
<rect x="522" y="532" width="1" height="3" fill="#ea4759"/>
<rect x="527" y="533" width="1" height="2" fill="#ea4759"/>
<rect x="532" y="533" width="1" height="2" fill="#ea4759"/>
<rect x="537" y="532" width="1" height="3" fill="#ea4759"/>
<rect x="542" y="531" width="1" height="4" fill="#ea4759"/>
<rect x="547" y="530" width="1" height="5" fill="#ea4759"/>
<rect x="552" y="531" width="1" height="4" fill="#ea4759"/>
<rect x="557" y="530" width="1" height="5" fill="#ea4759"/>
<rect x="562" y="530" width="1" height="5" fill="#ea4759"/>
<rect x="567" y="531" width="1" height="4" fill="#ea4759"/>
<rect x="572" y="528" width="1" height="7" fill="#ea4759"/>
<rect x="577" y="526" width="1" height="9" fill="#ea4759"/>
<rect x="582" y="526" width="1" height="9" fill="#ea4759"/>
<rect x="587" y="525" width="1" height="10" fill="#ea4759"/>
<rect x="592" y="531" width="1" height="4" fill="#ea4759"/>
<rect x="597" y="534" width="1" height="3" fill="#4ab581"/>
<rect x="602" y="534" width="1" height="6" fill="#4ab581"/>
<rect x="607" y="534" width="1" height="9" fill="#4ab581"/>
<rect x="612" y="534" width="1" height="6" fill="#4ab581"/>
<rect x="617" y="534" width="1" height="3" fill="#4ab581"/>
<rect x="622" y="534" width="1" height="3" fill="#4ab581"/>
<rect x="627" y="534" width="1" height="2" fill="#4ab581"/>
<rect x="632" y="534" width="1" height="1" fill="#ea4759"/>
<rect x="637" y="531" width="1" height="4" fill="#ea4759"/>
<rect x="642" y="530" width="1" height="5" fill="#ea4759"/>
<rect x="647" y="529" width="1" height="6" fill="#ea4759"/>
<rect x="652" y="529" width="1" height="6" fill="#ea4759"/>
<rect x="657" y="530" width="1" height="5" fill="#ea4759"/>
<rect x="662" y="529" width="1" height="6" fill="#ea4759"/>
<rect x="667" y="531" width="1" height="4" fill="#ea4759"/>
<rect x="672" y="526" width="1" height="9" fill="#ea4759"/>
<rect x="677" y="521" width="1" height="14" fill="#ea4759"/>
<rect x="682" y="517" width="1" height="18" fill="#ea4759"/>
<rect x="687" y="515" width="1" height="20" fill="#ea4759"/>
<rect x="692" y="511" width="1" height="24" fill="#ea4759"/>
<rect x="697" y="502" width="1" height="33" fill="#ea4759"/>
<rect x="702" y="499" width="1" height="36" fill="#ea4759"/>
<rect x="707" y="515" width="1" height="20" fill="#ea4759"/>
<rect x="712" y="534" width="1" height="1" fill="#ea4759"/>
<rect x="717" y="534" width="1" height="5" fill="#4ab581"/>
<rect x="722" y="534" width="1" height="7" fill="#4ab581"/>
<rect x="727" y="534" width="1" height="15" fill="#4ab581"/>
<rect x="732" y="534" width="1" height="14" fill="#4ab581"/>
</g>
<path d="M706 493h9v1h-9zM704 494h2v1h-2zM715 494h5v1h-5zM702 495h2v1h-2zM720 495h5v1h-5zM701 496h1v1h-1zM725 496h4v1h-4zM700 497h1v1h-1zM729 497h2v1h-2zM699 498h1v1h-1zM731 498h1v1h-1zM698 499h1v1h-1zM350 500h5v1h-5zM697 500h1v1h-1zM346 501h4v1h-4zM355 501h5v1h-5zM696 501h1v1h-1zM344 502h2v1h-2zM360 502h5v1h-5zM694 502h2v1h-2zM340 503h4v1h-4zM365 503h5v1h-5zM693 503h1v1h-1zM336 504h4v1h-4zM370 504h3v1h-3zM691 504h2v1h-2zM334 505h2v1h-2zM373 505h2v1h-2zM689 505h2v1h-2zM331 506h3v1h-3zM375 506h2v1h-2zM687 506h2v1h-2zM329 507h2v1h-2zM377 507h1v1h-1zM685 507h2v1h-2zM325 508h4v1h-4zM378 508h2v1h-2zM683 508h2v1h-2zM315 509h10v1h-10zM380 509h2v1h-2zM682 509h1v1h-1zM306 510h9v1h-9zM382 510h2v1h-2zM680 510h2v1h-2zM304 511h2v1h-2zM384 511h2v1h-2zM678 511h2v1h-2zM295 512h9v1h-9zM386 512h3v1h-3zM675 512h3v1h-3zM290 513h5v1h-5zM389 513h2v1h-2zM670 513h5v1h-5zM275 514h15v1h-15zM391 514h3v1h-3zM590 514h5v1h-5zM660 514h10v1h-10zM270 515h5v1h-5zM394 515h2v1h-2zM585 515h5v1h-5zM595 515h5v1h-5zM655 515h5v1h-5zM245 516h25v1h-25zM396 516h2v1h-2zM580 516h5v1h-5zM600 516h5v1h-5zM645 516h10v1h-10zM230 517h15v1h-15zM398 517h2v1h-2zM575 517h5v1h-5zM605 517h5v1h-5zM635 517h10v1h-10zM225 518h5v1h-5zM400 518h2v1h-2zM570 518h5v1h-5zM610 518h25v1h-25zM215 519h10v1h-10zM402 519h2v1h-2zM560 519h10v1h-10zM210 520h5v1h-5zM404 520h2v1h-2zM550 520h10v1h-10zM205 521h5v1h-5zM406 521h3v1h-3zM540 521h10v1h-10zM200 522h5v1h-5zM409 522h2v1h-2zM515 522h25v1h-25zM195 523h5v1h-5zM411 523h4v1h-4zM510 523h5v1h-5zM190 524h5v1h-5zM415 524h5v1h-5zM495 524h15v1h-15zM186 525h4v1h-4zM420 525h5v1h-5zM430 525h20v1h-20zM490 525h5v1h-5zM184 526h2v1h-2zM425 526h5v1h-5zM450 526h15v1h-15zM485 526h5v1h-5zM180 527h4v1h-4zM465 527h20v1h-20zM176 528h4v1h-4zM174 529h2v1h-2zM95 530h25v1h-25zM165 530h9v1h-9zM90 531h5v1h-5zM120 531h10v1h-10zM160 531h5v1h-5zM77 532h13v1h-13zM130 532h30v1h-30z" fill="#3fb87a" shape-rendering="crispEdges"/>
<path d="M702 479h1v1h-1zM701 480h1v1h-1zM703 480h1v1h-1zM700 481h1v1h-1zM704 481h1v1h-1zM699 482h1v1h-1zM705 482h1v1h-1zM698 483h1v1h-1zM706 483h1v1h-1zM697 484h1v1h-1zM707 484h1v1h-1zM696 485h1v1h-1zM708 485h1v1h-1zM696 486h1v1h-1zM708 486h1v1h-1zM695 487h1v1h-1zM709 487h1v1h-1zM695 488h1v1h-1zM709 488h1v1h-1zM694 489h1v1h-1zM710 489h1v1h-1zM693 490h1v1h-1zM710 490h1v1h-1zM693 491h1v1h-1zM711 491h1v1h-1zM692 492h1v1h-1zM711 492h1v1h-1zM691 493h1v1h-1zM712 493h1v1h-1zM690 494h1v1h-1zM713 494h2v1h-2zM345 495h3v1h-3zM690 495h1v1h-1zM715 495h2v1h-2zM341 496h4v1h-4zM348 496h2v1h-2zM689 496h1v1h-1zM717 496h1v1h-1zM339 497h2v1h-2zM350 497h2v1h-2zM688 497h1v1h-1zM718 497h2v1h-2zM337 498h2v1h-2zM352 498h1v1h-1zM687 498h1v1h-1zM720 498h2v1h-2zM335 499h2v1h-2zM353 499h2v1h-2zM685 499h2v1h-2zM722 499h1v1h-1zM333 500h2v1h-2zM355 500h2v1h-2zM683 500h2v1h-2zM723 500h1v1h-1zM332 501h1v1h-1zM357 501h1v1h-1zM682 501h1v1h-1zM724 501h2v1h-2zM330 502h2v1h-2zM358 502h2v1h-2zM680 502h2v1h-2zM726 502h1v1h-1zM328 503h2v1h-2zM360 503h2v1h-2zM678 503h2v1h-2zM727 503h3v1h-3zM326 504h2v1h-2zM362 504h2v1h-2zM677 504h1v1h-1zM730 504h2v1h-2zM324 505h2v1h-2zM364 505h2v1h-2zM676 505h1v1h-1zM320 506h4v1h-4zM366 506h2v1h-2zM675 506h1v1h-1zM305 507h5v1h-5zM315 507h5v1h-5zM368 507h1v1h-1zM674 507h1v1h-1zM301 508h4v1h-4zM310 508h5v1h-5zM369 508h1v1h-1zM673 508h1v1h-1zM299 509h2v1h-2zM370 509h1v1h-1zM672 509h1v1h-1zM296 510h3v1h-3zM371 510h1v1h-1zM671 510h1v1h-1zM294 511h2v1h-2zM372 511h1v1h-1zM585 511h4v1h-4zM669 511h2v1h-2zM280 512h14v1h-14zM373 512h1v1h-1zM580 512h5v1h-5zM589 512h2v1h-2zM660 512h5v1h-5zM668 512h1v1h-1zM275 513h5v1h-5zM374 513h1v1h-1zM576 513h4v1h-4zM591 513h2v1h-2zM650 513h10v1h-10zM665 513h3v1h-3zM220 514h10v1h-10zM270 514h5v1h-5zM375 514h1v1h-1zM574 514h2v1h-2zM593 514h2v1h-2zM645 514h5v1h-5zM215 515h5v1h-5zM230 515h5v1h-5zM250 515h20v1h-20zM376 515h1v1h-1zM572 515h2v1h-2zM595 515h2v1h-2zM640 515h5v1h-5zM205 516h10v1h-10zM235 516h15v1h-15zM377 516h1v1h-1zM570 516h2v1h-2zM597 516h1v1h-1zM636 516h4v1h-4zM200 517h5v1h-5zM378 517h1v1h-1zM568 517h2v1h-2zM598 517h2v1h-2zM634 517h2v1h-2zM196 518h4v1h-4zM379 518h2v1h-2zM555 518h13v1h-13zM600 518h2v1h-2zM630 518h4v1h-4zM194 519h2v1h-2zM381 519h1v1h-1zM545 519h10v1h-10zM602 519h2v1h-2zM615 519h15v1h-15zM190 520h4v1h-4zM382 520h2v1h-2zM540 520h5v1h-5zM604 520h2v1h-2zM610 520h5v1h-5zM186 521h4v1h-4zM384 521h2v1h-2zM500 521h20v1h-20zM535 521h5v1h-5zM606 521h4v1h-4zM184 522h2v1h-2zM386 522h4v1h-4zM495 522h5v1h-5zM520 522h15v1h-15zM180 523h4v1h-4zM390 523h4v1h-4zM490 523h5v1h-5zM177 524h3v1h-3zM394 524h2v1h-2zM435 524h5v1h-5zM486 524h4v1h-4zM175 525h2v1h-2zM396 525h2v1h-2zM432 525h3v1h-3zM440 525h5v1h-5zM484 525h2v1h-2zM173 526h2v1h-2zM398 526h2v1h-2zM430 526h2v1h-2zM445 526h5v1h-5zM481 526h3v1h-3zM170 527h3v1h-3zM400 527h2v1h-2zM428 527h2v1h-2zM450 527h5v1h-5zM479 527h2v1h-2zM90 528h5v1h-5zM165 528h5v1h-5zM402 528h3v1h-3zM425 528h3v1h-3zM455 528h10v1h-10zM470 528h9v1h-9zM85 529h5v1h-5zM95 529h10v1h-10zM161 529h4v1h-4zM405 529h5v1h-5zM421 529h4v1h-4zM465 529h5v1h-5zM80 530h5v1h-5zM105 530h5v1h-5zM159 530h2v1h-2zM410 530h5v1h-5zM419 530h2v1h-2zM77 531h3v1h-3zM110 531h10v1h-10zM155 531h4v1h-4zM415 531h4v1h-4zM120 532h5v1h-5zM140 532h15v1h-15zM125 533h15v1h-15z" fill="#2b85fb" shape-rendering="crispEdges"/>
<g shape-rendering="crispEdges">
<rect x="172" y="556" width="1" height="5" fill="#c6cedb"/>
<rect x="282" y="556" width="1" height="5" fill="#c6cedb"/>
<rect x="397" y="556" width="1" height="5" fill="#c6cedb"/>
<rect x="497" y="556" width="1" height="5" fill="#c6cedb"/>
<rect x="607" y="556" width="1" height="5" fill="#c6cedb"/>
<rect x="712" y="556" width="1" height="5" fill="#c6cedb"/>
</g>
<text x="70.6" y="30.9" font-size="12" fill="#2e323d" text-anchor="end" letter-spacing="0.1">5906.0</text>
<text x="842.2" y="30.9" font-size="12" fill="#2e323d" letter-spacing="0.1">5906.0</text>
<text x="70.6" y="93.9" font-size="12" fill="#2e323d" text-anchor="end" letter-spacing="0.1">5319.5</text>
<text x="842.2" y="93.9" font-size="12" fill="#2e323d" letter-spacing="0.1">5319.5</text>
<text x="70.6" y="157.9" font-size="12" fill="#2e323d" text-anchor="end" letter-spacing="0.1">4733.0</text>
<text x="842.2" y="157.9" font-size="12" fill="#2e323d" letter-spacing="0.1">4733.0</text>
<text x="70.6" y="221.9" font-size="12" fill="#2e323d" text-anchor="end" letter-spacing="0.1">4146.4</text>
<text x="842.2" y="221.9" font-size="12" fill="#2e323d" letter-spacing="0.1">4146.4</text>
<text x="70.6" y="285.9" font-size="12" fill="#2e323d" text-anchor="end" letter-spacing="0.1">3559.9</text>
<text x="842.2" y="285.9" font-size="12" fill="#2e323d" letter-spacing="0.1">3559.9</text>
<text x="70.6" y="370.9" font-size="12" fill="#2e323d" text-anchor="end" letter-spacing="0.1">86.9</text>
<text x="842.2" y="370.9" font-size="12" fill="#2e323d" letter-spacing="0.1">86.9</text>
<text x="70.6" y="399.9" font-size="12" fill="#2e323d" text-anchor="end" letter-spacing="0.1">64.6</text>
<text x="842.2" y="399.9" font-size="12" fill="#2e323d" letter-spacing="0.1">64.6</text>
<text x="70.6" y="429.9" font-size="12" fill="#2e323d" text-anchor="end" letter-spacing="0.1">42.3</text>
<text x="842.2" y="429.9" font-size="12" fill="#2e323d" letter-spacing="0.1">42.3</text>
<text x="70.6" y="481.9" font-size="12" fill="#2e323d" text-anchor="end" letter-spacing="0.1">234.0</text>
<text x="842.2" y="481.9" font-size="12" fill="#2e323d" letter-spacing="0.1">234.0</text>
<text x="70.6" y="506.9" font-size="12" fill="#2e323d" text-anchor="end" letter-spacing="0.1">126.0</text>
<text x="842.2" y="506.9" font-size="12" fill="#2e323d" letter-spacing="0.1">126.0</text>
<text x="70.6" y="532.9" font-size="12" fill="#2e323d" text-anchor="end" letter-spacing="0.1">18.1</text>
<text x="842.2" y="532.9" font-size="12" fill="#2e323d" letter-spacing="0.1">18.1</text>
<text x="174.3" y="568.3" font-size="12" fill="#23262e" font-weight="bold" textLength="44.4" lengthAdjust="spacingAndGlyphs">2025/09</text>
<text x="284.3" y="568.3" font-size="12" fill="#23262e" font-weight="bold" textLength="44.4" lengthAdjust="spacingAndGlyphs">2025/10</text>
<text x="399.3" y="568.3" font-size="12" fill="#23262e" font-weight="bold" textLength="44.4" lengthAdjust="spacingAndGlyphs">2025/11</text>
<text x="499.3" y="568.3" font-size="12" fill="#23262e" font-weight="bold" textLength="44.4" lengthAdjust="spacingAndGlyphs">2025/12</text>
<text x="609.3" y="568.3" font-size="12" fill="#23262e" font-weight="bold" textLength="44.4" lengthAdjust="spacingAndGlyphs">2026/01</text>
<text x="714.3" y="568.3" font-size="12" fill="#23262e" font-weight="bold" textLength="44.4" lengthAdjust="spacingAndGlyphs">2026/02</text>
<text x="352.2" y="188.6" font-size="12" fill="#ec4c62" font-weight="bold" textLength="37.3" lengthAdjust="spacingAndGlyphs">4398.0</text>
<text x="707.8" y="54.7" font-size="12" fill="#ec4c62" font-weight="bold" textLength="36.8" lengthAdjust="spacingAndGlyphs">5626.8</text>
<text x="228.9" y="19.8" font-size="12.2" fill="#111" textLength="104.4" lengthAdjust="spacingAndGlyphs">MA(0,50,0,200,0,0)</text>
<text x="339" y="19.8" font-size="12.2" fill="#3d8ff0" textLength="67" lengthAdjust="spacingAndGlyphs">MA0:4985.2</text>
<text x="415" y="19.8" font-size="12.2" fill="#52bb86" textLength="73.3" lengthAdjust="spacingAndGlyphs">MA50:4561.9</text>
<text x="497.7" y="19.8" font-size="12.2" fill="#3fa6e3" textLength="66.7" lengthAdjust="spacingAndGlyphs">MA0:4985.2</text>
<text x="573.3" y="19.8" font-size="12.2" fill="#ff8b42" textLength="81" lengthAdjust="spacingAndGlyphs">MA200:3845.5</text>
<text x="76.3" y="359.8" font-size="12.2" fill="#111" textLength="74.2" lengthAdjust="spacingAndGlyphs">RSI(14,14,14)</text>
<text x="155.7" y="359.8" font-size="12.2" fill="#3d8ff0" textLength="52" lengthAdjust="spacingAndGlyphs">RSI1:55.8</text>
<text x="216.7" y="359.8" font-size="12.2" fill="#52bb86" textLength="51.6" lengthAdjust="spacingAndGlyphs">RSI2:55.8</text>
<text x="277.7" y="359.8" font-size="12.2" fill="#3fa6e3" textLength="51.6" lengthAdjust="spacingAndGlyphs">RSI3:55.8</text>
<text x="338.3" y="359.8" font-size="12.2" fill="#bdbdbd" textLength="46" lengthAdjust="spacingAndGlyphs">L20:20.0</text>
<text x="393.5" y="359.8" font-size="12.2" fill="#bdbdbd" textLength="46" lengthAdjust="spacingAndGlyphs">L30:30.0</text>
<text x="448.70000000000005" y="359.8" font-size="12.2" fill="#bdbdbd" textLength="46" lengthAdjust="spacingAndGlyphs">L50:50.0</text>
<text x="503.90000000000003" y="359.8" font-size="12.2" fill="#bdbdbd" textLength="46" lengthAdjust="spacingAndGlyphs">L70:70.0</text>
<text x="559.1" y="359.8" font-size="12.2" fill="#bdbdbd" textLength="46" lengthAdjust="spacingAndGlyphs">L80:80.0</text>
<text x="76.7" y="471.2" font-size="12.2" fill="#111" textLength="84" lengthAdjust="spacingAndGlyphs">MACD(26,12,9)</text>
<text x="166.7" y="471.2" font-size="12.2" fill="#3d8ff0" textLength="57.6" lengthAdjust="spacingAndGlyphs">DIFF:125.9</text>
<text x="233.3" y="471.2" font-size="12.2" fill="#52bb86" textLength="56.7" lengthAdjust="spacingAndGlyphs">DEA:152.3</text>
<text x="299.3" y="471.2" font-size="12.2" fill="#3fa6e3" textLength="68" lengthAdjust="spacingAndGlyphs">MACD:-52.8</text>
<text x="75.9 87.9 99.9 111.9 123.9 135.9" y="20.2" font-size="12.1" fill="#000" style="font-family:'Liberation Sans','Noto Sans CJK SC',sans-serif">纽约黄金连续</text>
<text x="146.3 159.5 171.2 185.0" y="20.2" font-size="12.1" fill="#ff8208" style="font-family:'Liberation Sans','Noto Sans CJK SC',sans-serif">【日线】</text>
<text x="17.3 29.9" y="571.1" font-size="13" font-weight="bold" fill="#ff7a10" style="font-family:'Liberation Sans','Noto Sans CJK SC',sans-serif">日线</text>
<path d="M48.6,569.9 L56.9,569.9 L52.75,561.8 Z" fill="#ff7a10"/>
<g stroke="#ff8a1f" fill="none"><circle cx="200.6" cy="17.4" r="3.9" stroke-width="0.85"/><line x1="196.6" y1="17.4" x2="204.6" y2="17.4" stroke-width="1.1"/><line x1="200.6" y1="13.4" x2="200.6" y2="21.4" stroke-width="0.55"/></g>
<g><rect x="213.5" y="7.5" width="11" height="12" fill="#fff" stroke="#10108c" stroke-width="1" shape-rendering="crispEdges"/><rect x="225" y="8" width="1" height="13" fill="#c9c9d4"/><rect x="214" y="20" width="11" height="1" fill="#c9c9d4"/><polyline points="214.1,14.5 217.7,10.3 220.4,13.1 222.3,11.2 224.5,11.2" fill="none" stroke="#ff1a1a" stroke-width="1"/><polyline points="214.1,17.5 217.7,13.6 220.4,16.4 222.3,14.5 224.5,14.5" fill="none" stroke="#1a1aff" stroke-width="1"/></g>
<rect x="776.5" y="7.5" width="13" height="13" fill="#fff" stroke="#1b7fd6" stroke-width="1" shape-rendering="crispEdges"/>
<rect x="792.5" y="7.5" width="13" height="13" fill="#fff" stroke="#1b7fd6" stroke-width="1" shape-rendering="crispEdges"/>
<rect x="808.5" y="7.5" width="13" height="13" fill="#fff" stroke="#1b7fd6" stroke-width="1" shape-rendering="crispEdges"/>
<rect x="824.5" y="7.5" width="13" height="13" fill="#fff" stroke="#1b7fd6" stroke-width="1" shape-rendering="crispEdges"/>
<g fill="#1b7fd6" shape-rendering="crispEdges">
<rect x="778" y="13" width="3" height="2" fill="#1b7fd6"/>
<rect x="782" y="13" width="2" height="2" fill="#1b7fd6"/>
<rect x="785" y="13" width="3" height="2" fill="#1b7fd6"/>
<rect x="782" y="9" width="2" height="3" fill="#1b7fd6"/>
<rect x="782" y="16" width="2" height="3" fill="#1b7fd6"/>
</g>
<g stroke="#1b7fd6" fill="#1b7fd6" stroke-width="1"><line x1="795.5" y1="9.5" x2="795.5" y2="19"/><line x1="794" y1="17.5" x2="803.5" y2="17.5"/><path d="M795.5,8.5 l-1.8,2.2 h3.6z M804.2,17.5 l-2.2,-1.8 v3.6z M793.6,17.5 l1.6,-1.4 v2.8z M795.5,19.6 l-1.4,-1.6 h2.8z" stroke="none"/></g>
<g fill="#1b7fd6"><rect x="798" y="10" width="1.2" height="6"/><path d="M799.3,13 L802.2,10.2 V15.8Z"/></g>
<g stroke="#1b7fd6" fill="#1b7fd6" stroke-width="1"><line x1="811.5" y1="9.5" x2="811.5" y2="19"/><line x1="810" y1="17.5" x2="819.5" y2="17.5"/><path d="M811.5,8.5 l-1.8,2.2 h3.6z M820.2,17.5 l-2.2,-1.8 v3.6z M809.6,17.5 l1.6,-1.4 v2.8z M811.5,19.6 l-1.4,-1.6 h2.8z" stroke="none"/></g>
<g fill="#1b7fd6"><rect x="813.6" y="10" width="1" height="6.4"/><path d="M814.4,10 L819.4,13.2 L814.4,16.4Z"/></g>
<g fill="none" stroke="#1b7fd6"><rect x="826.5" y="9.5" width="2" height="9" stroke-width="1" shape-rendering="crispEdges"/></g><g fill="#1b7fd6"><rect x="829" y="13" width="4" height="2" shape-rendering="crispEdges"/><path d="M832.5,10.6 L836.2,14 L832.5,17.4Z"/></g>
<rect x="839.5" y="128.5" width="68" height="17" fill="#fff" stroke="#ff8207" stroke-width="1" shape-rendering="crispEdges"/>
<text x="842.2" y="141.0" font-size="12" fill="#ff8207" letter-spacing="0.1">4985.2</text>
<path d="M898.2,128.1 L903,124.1 L907.8,128.1Z M899.5,123.2 L903,119.9 L906.5,123.2Z" fill="#ff8207"/>
<g><circle cx="12.8" cy="463.8" r="3.9" fill="none" stroke="#111" stroke-width="0.9"/><circle cx="12.8" cy="463.8" r="2.1" fill="#ff1010"/><g stroke="#ff1010" stroke-width="1.15"><line x1="17.90" y1="463.80" x2="19.80" y2="463.80"/><line x1="16.69" y1="467.69" x2="18.39" y2="469.39"/><line x1="12.80" y1="468.90" x2="12.80" y2="470.80"/><line x1="8.91" y1="467.69" x2="7.21" y2="469.39"/><line x1="7.70" y1="463.80" x2="5.80" y2="463.80"/><line x1="8.91" y1="459.91" x2="7.21" y2="458.21"/><line x1="12.80" y1="458.70" x2="12.80" y2="456.80"/><line x1="16.69" y1="459.91" x2="18.39" y2="458.21"/></g></g>
<g transform="translate(778.5,550.6) scale(0.968,1)" filter="url(#ws)"><text x="0" y="0" font-size="31" fill="#dae6f6" style="letter-spacing:2.7px">FX678</text></g>
</svg>
</body></html>
